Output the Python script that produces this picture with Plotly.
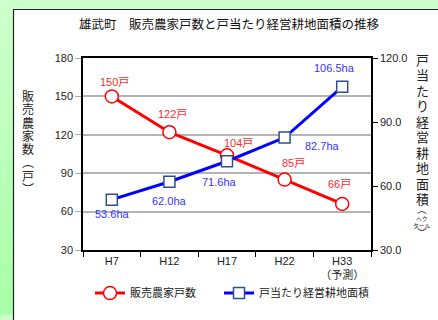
import plotly.graph_objects as go

categories = ["H7", "H12", "H17", "H22", "H33"]
tick_labels = ["H7", "H12", "H17", "H22", "H33<br>（予測）"]
households = [150, 122, 104, 85, 66]
area_per_household = [53.6, 62.0, 71.6, 82.7, 106.5]
household_labels = ["150戸", "122戸", "104戸", "85戸", "66戸"]
area_labels = ["53.6ha", "62.0ha", "71.6ha", "82.7ha", "106.5ha"]

title_text = "雄武町　販売農家戸数と戸当たり経営耕地面積の推移"
left_title_chars = ["販", "売", "農", "家", "数", "︵", "戸", "︶"]
right_title_chars = ["戸", "当", "た", "り", "経", "営", "耕", "地", "面", "積"]
right_unit_lines = ["︵", "ヘク", "タール", "︶"]

FONT = "Arial, 'Liberation Sans', 'Noto Sans CJK JP', sans-serif"
JP = "'Noto Sans CJK JP', Arial, sans-serif"

# plot area geometry in pixels
L, R, T, B = 83, 371, 58, 254
PW, PH = R - L, B - T


def px(xp):
    return (xp - L) / PW


def py(yp):
    return (B - yp) / PH


# label offsets (px) relative to the marker
red_off = [(3, 14), (3, 18), (11, 12), (9, 17), (-3, 20)]
blue_off = [(1, -14), (0, -19), (-8, -21), (38, -8), (-8, 19)]

fig = go.Figure()
fig.add_trace(go.Scatter(
    x=categories, y=households, name="販売農家戸数", mode="lines+markers",
    line=dict(color="#ff0000", width=3),
    marker=dict(symbol="circle", size=13, color="white", line=dict(color="#ff0000", width=1.5)),
    yaxis="y", legend="legend"))
fig.add_trace(go.Scatter(
    x=categories, y=area_per_household, name="戸当たり経営耕地面積", mode="lines+markers",
    line=dict(color="#0000ff", width=3),
    marker=dict(symbol="square", size=11, color="white", line=dict(color="#2f4f8f", width=1.5)),
    yaxis="y2", legend="legend2"))

annotations = []
for c, v, t, (dx, dy) in zip(categories, households, household_labels, red_off):
    annotations.append(dict(x=c, y=v, xref="x", yref="y", text=t, showarrow=False,
                            xshift=dx, yshift=dy, font=dict(size=11, color="#ff2a2a", family=FONT)))
for c, v, t, (dx, dy) in zip(categories, area_per_household, area_labels, blue_off):
    annotations.append(dict(x=c, y=v, xref="x", yref="y2", text=t, showarrow=False,
                            xshift=dx, yshift=dy, font=dict(size=11, color="#3333ff", family=FONT)))

# vertical axis titles (line spacing from annotation font size, glyph size from span)
left_text = "<br>".join("<span style='font-size:12px'>%s</span>" % c for c in left_title_chars)
annotations.append(dict(xref="paper", yref="paper", x=px(28), y=py(144), text=left_text,
                        showarrow=False, font=dict(size=10.2, color="#222", family=JP),
                        xanchor="center", yanchor="middle"))
right_text = "<br>".join("<span style='font-size:13px'>%s</span>" % c for c in right_title_chars)
annotations.append(dict(xref="paper", yref="paper", x=px(422), y=py(130), text=right_text,
                        showarrow=False, font=dict(size=11.9, color="#222", family=JP),
                        xanchor="center", yanchor="middle"))
unit_text = "<br>".join(
    ("<span style='font-size:9px'>%s</span>" % s) if s in ("︵", "︶") else s for s in right_unit_lines)
annotations.append(dict(xref="paper", yref="paper", x=px(422), y=py(224.5), text=unit_text,
                        showarrow=False, font=dict(size=5.8, color="#222", family=JP),
                        xanchor="center", yanchor="middle"))

# background: green frame with white panel
shapes = []
top_c = (0xcc, 0xff, 0xcc)
bot_c = (0xa8, 0xff, 0xa8)
n = 12
for i in range(n):
    f = i / (n - 1)
    col = "rgb(%d,%d,%d)" % tuple(round(a + (b - a) * f) for a, b in zip(top_c, bot_c))
    shapes.append(dict(type="rect", xref="paper", yref="paper", layer="below",
                       x0=px(0), x1=px(13), y0=py((i + 1) * 320 / n), y1=py(i * 320 / n),
                       fillcolor=col, line=dict(width=0)))
shapes.append(dict(type="rect", xref="paper", yref="paper", layer="below",
                   x0=px(14), x1=1.4, y0=-0.6, y1=py(9),
                   fillcolor="#aaaaaa", line=dict(width=0)))
shapes.append(dict(type="rect", xref="paper", yref="paper", layer="below",
                   x0=px(13.5), x1=1.4, y0=-0.6, y1=py(8.5),
                   fillcolor="white", line=dict(color="#222222", width=1.2)))

legend_style = dict(orientation="h", xanchor="left", yanchor="middle", y=py(298),
                    font=dict(size=11, family=JP), itemwidth=30, bgcolor="rgba(0,0,0,0)")

fig.update_layout(
    width=438, height=320,
    margin=dict(l=L, r=438 - R, t=T, b=320 - B),
    paper_bgcolor="#ccffcc", plot_bgcolor="rgba(0,0,0,0)",
    font=dict(family=FONT, size=11, color="#222"),
    title=dict(text=title_text, x=229 / 438, xanchor="center", y=1 - 25 / 320, yanchor="middle",
               font=dict(size=12.5, color="#111", family=JP)),
    xaxis=dict(type="category", categoryorder="array", categoryarray=categories,
               tickvals=categories, ticktext=tick_labels, tickson="boundaries",
               ticks="outside", ticklen=5, tickcolor="black", showline=True, linecolor="black",
               linewidth=1.5, mirror=True, showgrid=False, tickfont=dict(size=11), range=[-0.5, 4.5]),
    yaxis=dict(range=[30, 180], dtick=30, tick0=30, showline=True, linecolor="black", linewidth=1.5,
               ticks="outside", ticklen=6, tickcolor="#aaaaaa", showgrid=True, gridcolor="#b4b4b4",
               gridwidth=1.5, zeroline=False, tickfont=dict(size=11)),
    yaxis2=dict(range=[30, 120], dtick=30, tick0=30, overlaying="y", side="right", showline=True,
                linecolor="black", linewidth=1.5, ticks="outside", ticklen=5, tickcolor="black",
                showgrid=False, zeroline=False, tickformat=".1f", tickfont=dict(size=11)),
    showlegend=True,
    legend=dict(x=px(90), **legend_style),
    legend2=dict(x=px(219), **legend_style),
    annotations=annotations, shapes=shapes,
)

fig.write_html("out.html")
